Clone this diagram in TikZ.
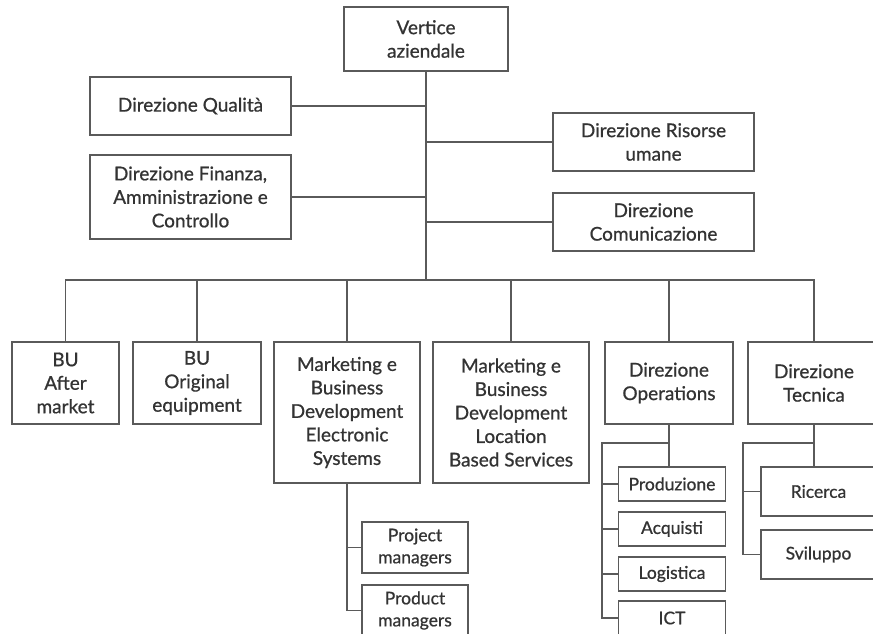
\documentclass[tikz,border=0pt]{standalone}
\usepackage{fontspec}
\setmainfont{Lato}[FakeBold=0.8]
\usetikzlibrary{positioning, calc}
\definecolor{orgLine}{HTML}{5A5A5A}
\definecolor{orgText}{HTML}{333333}

\begin{document}
\begin{tikzpicture}[
    x=1pt, y=-1pt,
    every node/.style={font=\fontsize{19}{23.5}\selectfont, text=orgText},
    % --- node styles ---
    box/.style={
        draw=orgLine, line width=1.3pt, align=center, inner sep=2pt,
    },
    staffbox/.style={box, minimum width=201pt, minimum height=58pt},
    unitbox/.style={box, minimum height=82pt},
    tallbox/.style={box, minimum height=141pt},
    subbox/.style={box, font=\fontsize{17.5}{22}\selectfont},
    opsbox/.style={subbox, minimum width=107pt, minimum height=34pt},
    tecbox/.style={subbox, minimum width=115pt, minimum height=49pt},
    mktbox/.style={subbox, minimum width=106pt, minimum height=51pt},
    % --- connector style ---
    lnk/.style={draw=orgLine, line width=1.3pt},
]
\useasboundingbox (0,0) rectangle (873,634);

% ===== TOP ==================================================================

\node[box, minimum width=164pt, minimum height=64pt] (vert) at (426, 39)
    {Vertice\\aziendale};

% -- staff, left --
\node[staffbox] (qual) at (190.5, 106) {Direzione Qualità};
\node[staffbox, minimum height=84pt] (fin) at (190.5, 197)
    {Direzione Finanza,\\Amministrazione e\\Controllo};

% -- staff, right --
\node[staffbox] (risu) at (653.5, 142) {Direzione Risorse\\umane};
\node[staffbox] (comu) at (653.5, 222) {Direzione\\Comunicazione};

% -- trunk and bus --
\coordinate (bus) at (426, 280);
\draw[lnk] (vert.south) -- (bus);
\draw[lnk] (qual.east) -- (qual.east -| vert.south);
\draw[lnk] (fin.east)  -- (fin.east -| vert.south);
\draw[lnk] (risu.west) -- (risu.west -| vert.south);
\draw[lnk] (comu.west) -- (comu.west -| vert.south);


% ===== LINE UNITS ===========================================================

\node[unitbox, minimum width=107pt] (bua) at (65.5, 383)
    {BU\\After\\market};
\node[unitbox, minimum width=128pt] (buo) at (197, 383)
    {BU\\Original\\equipment};
\node[tallbox, minimum width=146pt] (mkes) at (347, 412.5)
    {Marketing e\\Business\\Development\\Electronic\\Systems};
\node[tallbox, minimum width=156pt] (mklbs) at (511, 412.5)
    {Marketing e\\Business\\Development\\Location\\Based Services};
\node[unitbox, minimum width=128pt] (ops) at (669, 383)
    {Direzione\\Operations};
\node[unitbox, minimum width=132pt] (tec) at (814, 383)
    {Direzione\\Tecnica};

% -- Arrows: bus to units --
\foreach \n in {bua, buo, mkes, mklbs, ops, tec}
    \draw[lnk] (\n.north) |- (bus);


% ===== SUB UNITS ============================================================

% -- Marketing ES --
\node[mktbox] (proj) at (415, 547.5) {Project\\managers};
\node[mktbox] (prdm) at (415, 610.5) {Product\\managers};

\draw[lnk] (mkes.south) |- (prdm.west);
\draw[lnk] (mkes.south |- proj.west) -- (proj.west);

% -- Operations --
\node[opsbox] (prod) at (672, 484) {Produzione};
\node[opsbox] (acq)  at (672, 529) {Acquisti};
\node[opsbox] (logi) at (672, 574) {Logistica};
\node[opsbox] (ict)  at (672, 618) {ICT};

\coordinate (opsrail) at (602, 443);
\draw[lnk] (ops.south) -- (ops.south |- prod.north);
\draw[lnk] (opsrail -| ops.south) -- (opsrail) |- (ict.west);
\foreach \n in {prod, acq, logi}
    \draw[lnk] (opsrail |- \n.west) -- (\n.west);

% -- Tecnica --
\node[tecbox] (ric)  at (818.5, 491.5) {Ricerca};
\node[tecbox] (svil) at (818.5, 554.5) {Sviluppo};

\coordinate (tecrail) at (743, 443);
\draw[lnk] (tec.south) -- (tec.south |- ric.north);
\draw[lnk] (tecrail -| tec.south) -- (tecrail) |- (svil.west);
\draw[lnk] (tecrail |- ric.west) -- (ric.west);

\end{tikzpicture}
\end{document}
